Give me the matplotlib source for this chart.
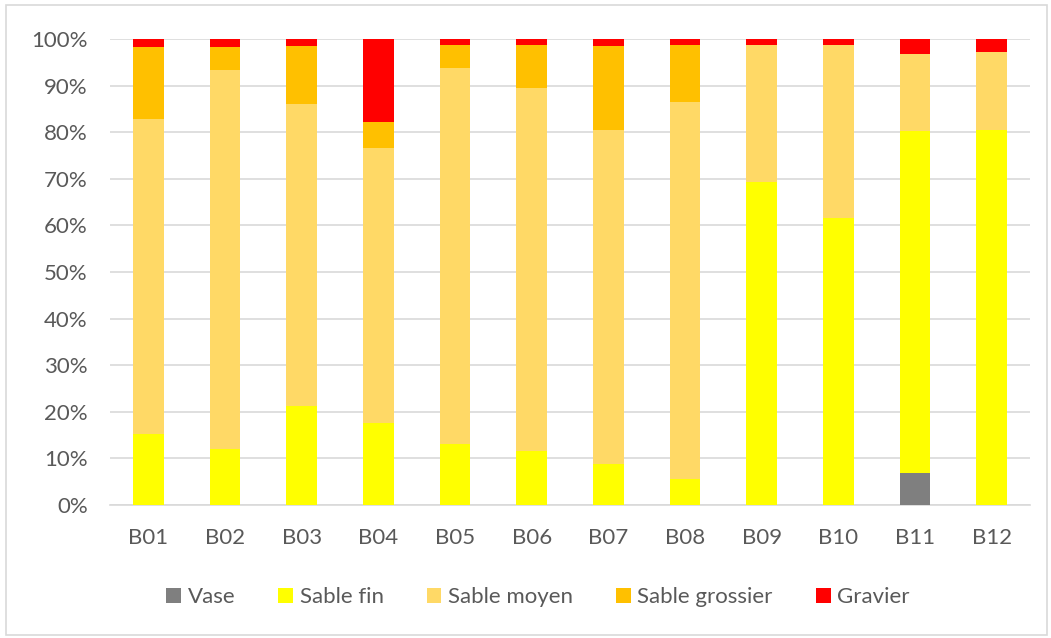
import matplotlib
matplotlib.use("Agg")
import matplotlib.pyplot as plt
from matplotlib.patches import Rectangle
import numpy as np

categories = ["B01", "B02", "B03", "B04", "B05", "B06", "B07", "B08", "B09", "B10", "B11", "B12"]
vase = [0, 0, 0, 0, 0, 0, 0, 0, 0, 0, 6.7, 0]
sable_fin = [15.2, 11.9, 21.3, 17.6, 13.1, 11.5, 8.8, 5.5, 69.3, 61.5, 73.6, 80.5]
sable_moyen = [67.7, 81.6, 64.9, 59.0, 80.7, 78.1, 71.7, 81.0, 29.5, 37.3, 16.5, 16.8]
sable_grossier = [15.4, 4.8, 12.4, 5.7, 5.0, 9.2, 18.1, 12.3, 0, 0, 0, 0]
gravier = [1.7, 1.7, 1.4, 17.7, 1.2, 1.2, 1.4, 1.2, 1.2, 1.2, 3.2, 2.7]

series = [
    ("Vase", vase, "#7F7F7F"),
    ("Sable fin", sable_fin, "#FFFF00"),
    ("Sable moyen", sable_moyen, "#FFD966"),
    ("Sable grossier", sable_grossier, "#FFC000"),
    ("Gravier", gravier, "#FF0000"),
]

plt.rcParams['font.family'] = ['Lato', 'DejaVu Sans']
text_color = "#595959"

fig = plt.figure(figsize=(10.51, 6.38), dpi=100)
ax = fig.add_axes([0.1047, 0.209, 0.8753, 0.7294])

x = np.arange(len(categories))
bottom = np.zeros(len(categories))
for name, vals, col in series:
    vals = np.array(vals, dtype=float)
    ax.bar(x, vals, 0.4, bottom=bottom, color=col, label=name, zorder=3)
    bottom += vals

ax.set_xlim(-0.5, len(categories) - 0.5)
ax.set_ylim(0, 100)
ax.set_yticks(np.arange(0, 101, 10))
ax.set_yticklabels([f"{v}%" for v in range(0, 101, 10)])
ax.set_xticks(x)
ax.set_xticklabels(categories)
ax.yaxis.grid(True, color="#D9D9D9", linewidth=1.2, zorder=0)
for s in ["top", "right", "left"]:
    ax.spines[s].set_visible(False)
ax.spines["bottom"].set_color("#D9D9D9")
ax.spines["bottom"].set_linewidth(1.2)
ax.tick_params(axis="both", length=0, labelsize=16, colors=text_color)
ax.tick_params(axis="x", pad=17)
ax.tick_params(axis="y", pad=16)

leg = fig.legend(loc="center", bbox_to_anchor=(0.512, 0.064), ncol=5, frameon=False,
                 fontsize=16, handlelength=0.65, handleheight=0.65, handletextpad=0.3,
                 columnspacing=1.95)
for t in leg.get_texts():
    t.set_color(text_color)

fig.patches.append(Rectangle((0.006, 0.005), 0.99, 0.987, transform=fig.transFigure,
                             fill=False, edgecolor="#D9D9D9", linewidth=1.2))

fig.savefig("out.png", dpi=100)
